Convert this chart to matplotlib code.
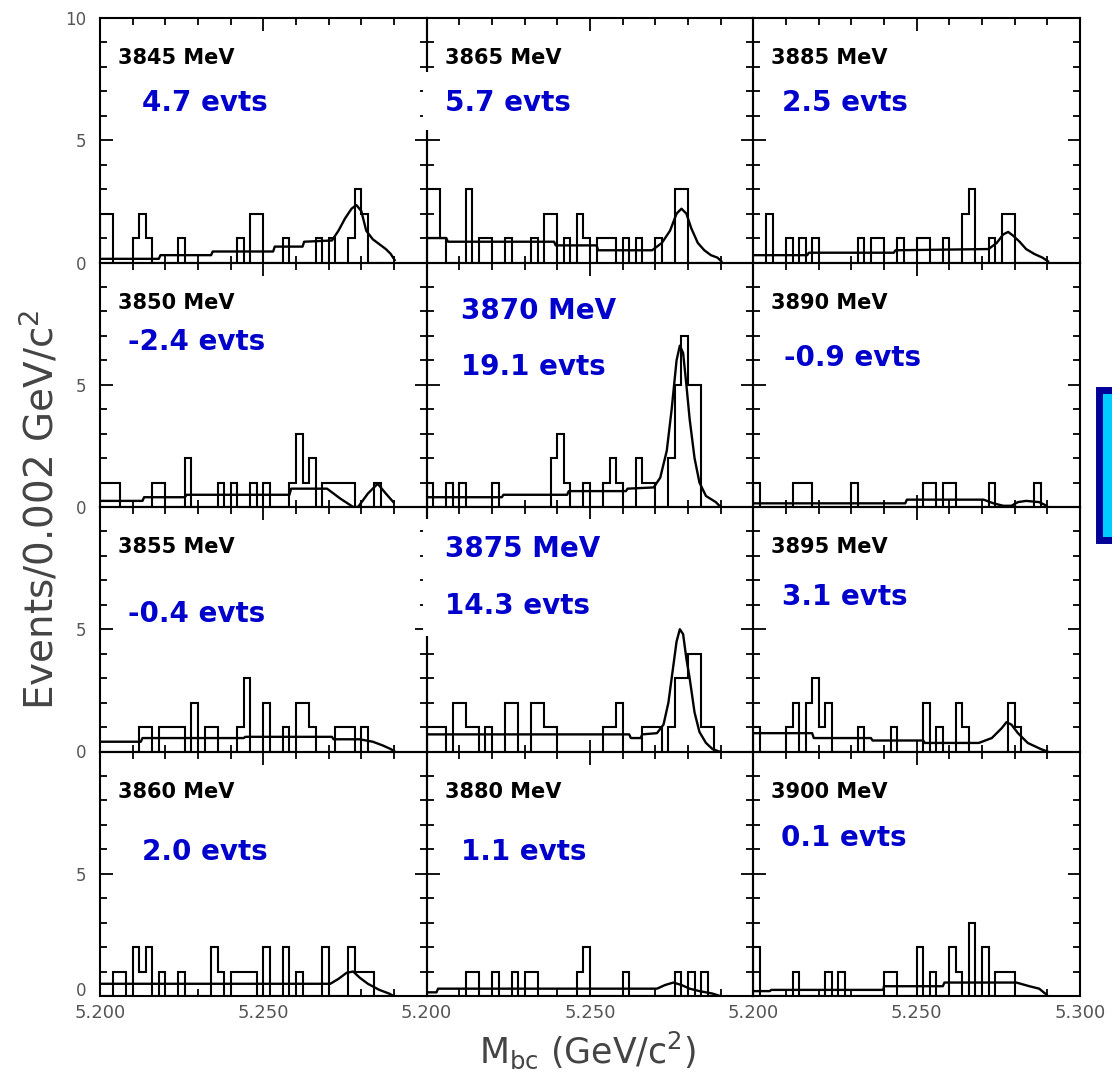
#!/usr/bin/env python3
"""
Mbc distributions in 12 energy windows (4 x 3 grid of histograms with fit curves)
"""

import matplotlib.pyplot as plt
import numpy as np
from matplotlib.patches import Rectangle
from matplotlib.ticker import MultipleLocator

# Binning: 0.002 GeV bins from 5.200 to 5.290
bin_lo = 5.200
bin_width = 0.002
n_bins = 45

# Panels in reading order (row by row)
energy_labels = ['3845 MeV', '3865 MeV', '3885 MeV',
                 '3850 MeV', '3870 MeV', '3890 MeV',
                 '3855 MeV', '3875 MeV', '3895 MeV',
                 '3860 MeV', '3880 MeV', '3900 MeV']
yield_labels = ['4.7 evts', '5.7 evts', '2.5 evts',
                '-2.4 evts', '19.1 evts', '-0.9 evts',
                '-0.4 evts', '14.3 evts', '3.1 evts',
                '2.0 evts', '1.1 evts', '0.1 evts']

# Non-empty bins per panel: {bin index: entries}
hist_3845 = {0: 2, 1: 2, 5: 1, 6: 2, 7: 1, 12: 1, 21: 1, 23: 2, 24: 2, 28: 1,
             33: 1, 35: 1, 38: 1, 39: 3, 40: 2}
hist_3865 = {0: 3, 1: 3, 2: 1, 6: 3, 8: 1, 9: 1, 12: 1, 16: 1, 18: 2, 19: 2,
             21: 1, 23: 2, 24: 1, 26: 1, 27: 1, 28: 1, 30: 1, 32: 1, 35: 1,
             38: 3, 39: 3}
hist_3885 = {2: 2, 5: 1, 7: 1, 9: 1, 16: 1, 18: 1, 19: 1, 22: 1, 25: 1, 26: 1,
             29: 1, 32: 2, 33: 3, 36: 1, 38: 2, 39: 2}
hist_3850 = {0: 1, 1: 1, 2: 1, 8: 1, 9: 1, 13: 2, 18: 1, 20: 1, 23: 1, 25: 1,
             29: 1, 30: 3, 31: 1, 32: 2, 34: 1, 35: 1, 36: 1, 37: 1, 38: 1, 42: 1}
hist_3870 = {0: 1, 3: 1, 5: 1, 10: 1, 19: 2, 20: 3, 21: 1, 24: 1, 27: 1, 28: 2,
             29: 1, 32: 2, 33: 1, 34: 1, 37: 2, 38: 5, 39: 7, 40: 5, 41: 5}
hist_3890 = {0: 1, 6: 1, 7: 1, 8: 1, 15: 1, 26: 1, 27: 1, 29: 1, 30: 1, 36: 1,
             43: 1}
hist_3855 = {6: 1, 7: 1, 9: 1, 10: 1, 11: 1, 12: 1, 14: 2, 16: 1, 17: 1, 21: 1,
             22: 3, 25: 2, 28: 1, 30: 2, 31: 2, 32: 1, 36: 1, 37: 1, 38: 1, 40: 1}
hist_3875 = {0: 1, 1: 1, 2: 1, 4: 2, 5: 2, 6: 1, 7: 1, 9: 1, 12: 2, 13: 2,
             16: 2, 17: 2, 18: 1, 19: 1, 27: 1, 28: 1, 29: 2, 33: 1, 34: 1,
             35: 1, 37: 1, 38: 3, 39: 3, 40: 4, 41: 4, 42: 1, 43: 1}
hist_3895 = {0: 1, 5: 1, 6: 2, 8: 2, 9: 3, 10: 1, 11: 2, 16: 1, 21: 1, 26: 2,
             28: 1, 31: 2, 32: 1, 39: 2, 40: 1}
hist_3860 = {2: 1, 3: 1, 5: 2, 6: 1, 7: 2, 9: 1, 12: 1, 17: 2, 18: 1, 20: 1,
             21: 1, 22: 1, 23: 1, 25: 2, 28: 2, 30: 1, 34: 2, 38: 2, 39: 1,
             40: 1, 41: 1}
hist_3880 = {6: 1, 7: 1, 10: 1, 13: 1, 15: 1, 16: 1, 23: 1, 24: 2, 30: 1,
             38: 1, 40: 1, 42: 1}
hist_3900 = {0: 2, 6: 1, 11: 1, 13: 1, 20: 1, 21: 1, 25: 2, 27: 1, 30: 2,
             31: 1, 33: 3, 35: 2, 37: 1, 38: 1, 39: 1}

# Fit curves: (Mbc, events/bin)
curve_3845 = [(5.200, 0.15), (5.218, 0.15), (5.2185, 0.3), (5.234, 0.3), (5.2345, 0.45),
              (5.253, 0.45), (5.2535, 0.65), (5.262, 0.65), (5.2625, 0.85), (5.271, 0.9),
              (5.273, 1.3), (5.275, 1.8), (5.277, 2.2), (5.2785, 2.35), (5.280, 2.1),
              (5.2815, 1.3), (5.2835, 0.95), (5.2855, 0.75), (5.2875, 0.55),
              (5.289, 0.35), (5.2902, 0.1)]
curve_3865 = [(5.200, 1.0), (5.206, 1.0), (5.2065, 0.85), (5.239, 0.85), (5.2395, 0.7),
              (5.252, 0.7), (5.2525, 0.5), (5.269, 0.5), (5.272, 0.8), (5.2745, 1.3),
              (5.2765, 2.0), (5.278, 2.2), (5.2795, 2.0), (5.281, 1.4), (5.283, 0.8),
              (5.285, 0.5), (5.287, 0.3), (5.289, 0.2), (5.2902, 0.05)]
curve_3885 = [(5.200, 0.3), (5.2165, 0.3), (5.217, 0.4), (5.243, 0.4), (5.2435, 0.5),
              (5.272, 0.55), (5.2745, 0.8), (5.2765, 1.15), (5.278, 1.25), (5.2795, 1.1),
              (5.2815, 0.85), (5.2835, 0.55), (5.286, 0.35), (5.2885, 0.2), (5.2902, 0.05)]
curve_3850 = [(5.200, 0.25), (5.213, 0.25), (5.2135, 0.4), (5.226, 0.4), (5.2265, 0.5),
              (5.258, 0.5), (5.2585, 0.75), (5.2695, 0.75), (5.2735, 0.35), (5.2775, 0.0),
              (5.279, 0.0), (5.282, 0.55), (5.285, 0.95), (5.2875, 0.55), (5.2898, 0.2)]
curve_3870 = [(5.200, 0.4), (5.223, 0.4), (5.2235, 0.5), (5.243, 0.5), (5.2435, 0.65),
              (5.261, 0.65), (5.2615, 0.75), (5.2695, 0.8), (5.2715, 1.2), (5.2735, 2.3),
              (5.275, 4.0), (5.2765, 6.0), (5.2775, 6.6), (5.2785, 6.3), (5.2795, 5.0),
              (5.2805, 3.6), (5.282, 2.0), (5.2835, 1.0), (5.2855, 0.45), (5.2885, 0.2),
              (5.290, 0.0)]
curve_3890 = [(5.200, 0.15), (5.2465, 0.15), (5.247, 0.3), (5.2705, 0.3), (5.2735, 0.15),
              (5.2765, 0.05), (5.279, 0.05), (5.281, 0.2), (5.2835, 0.25), (5.2875, 0.2),
              (5.2898, 0.05)]
curve_3855 = [(5.200, 0.4), (5.2125, 0.4), (5.213, 0.55), (5.244, 0.55), (5.2445, 0.6),
              (5.271, 0.6), (5.2715, 0.5), (5.2795, 0.5), (5.2835, 0.4), (5.2865, 0.25),
              (5.289, 0.1), (5.2902, 0.0)]
curve_3875 = [(5.200, 0.7), (5.262, 0.7), (5.2625, 0.55), (5.2655, 0.55), (5.266, 0.7),
              (5.2705, 0.75), (5.2725, 1.1), (5.274, 2.0), (5.275, 3.0), (5.2765, 4.5),
              (5.2775, 5.0), (5.2785, 4.8), (5.2795, 3.8), (5.2805, 3.0), (5.282, 1.6),
              (5.2835, 0.8), (5.2855, 0.35), (5.2875, 0.1), (5.2895, 0.0)]
curve_3895 = [(5.200, 0.75), (5.218, 0.75), (5.2185, 0.55), (5.236, 0.55), (5.2365, 0.45),
              (5.252, 0.45), (5.2525, 0.35), (5.269, 0.35), (5.273, 0.55), (5.276, 0.95),
              (5.2775, 1.2), (5.279, 1.1), (5.281, 0.75), (5.284, 0.35), (5.288, 0.1),
              (5.290, 0.0)]
curve_3860 = [(5.200, 0.5), (5.2705, 0.5), (5.273, 0.7), (5.2755, 0.95), (5.2775, 1.0),
              (5.2795, 0.75), (5.282, 0.5), (5.2855, 0.25), (5.2885, 0.1), (5.2898, 0.0)]
curve_3880 = [(5.200, 0.15), (5.203, 0.15), (5.2035, 0.3), (5.2705, 0.3), (5.273, 0.45),
              (5.2755, 0.55), (5.278, 0.45), (5.2805, 0.3), (5.2835, 0.2), (5.2875, 0.1),
              (5.2898, 0.0)]
curve_3900 = [(5.200, 0.2), (5.205, 0.2), (5.2055, 0.25), (5.2398, 0.25), (5.240, 0.4),
              (5.258, 0.4), (5.2585, 0.55), (5.2805, 0.55), (5.2845, 0.4), (5.2875, 0.3),
              (5.2898, 0.05)]

hists = [hist_3845, hist_3865, hist_3885, hist_3850, hist_3870, hist_3890,
         hist_3855, hist_3875, hist_3895, hist_3860, hist_3880, hist_3900]
curves = [curve_3845, curve_3865, curve_3885, curve_3850, curve_3870, curve_3890,
          curve_3855, curve_3875, curve_3895, curve_3860, curve_3880, curve_3900]

# Text placement (axes fraction): energy label in blue for the two signal panels
blue_energy = {4: (0.104, 0.80), 7: (0.057, 0.828)}
yield_pos = [(0.129, 0.652), (0.056, 0.652), (0.088, 0.652),
             (0.086, 0.673), (0.104, 0.571), (0.095, 0.611),
             (0.086, 0.562), (0.057, 0.595), (0.088, 0.632),
             (0.129, 0.587), (0.104, 0.587), (0.086, 0.648)]
# white patches that hide the frame behind some text boxes (x0, y0, x1, y1)
white_patch = {1: (-0.012, 0.542, 0.45, 0.779), 7: (-0.012, 0.472, 0.55, 0.951)}

W, H = 1112, 1079
fig = plt.figure(figsize=(W / 100, H / 100), dpi=100)

left_px, top_px = 100, 18
pan_w, pan_h = 326.67, 244.5
blue = '#0000CC'
grey = '#555555'

edges = bin_lo + bin_width * np.arange(n_bins + 1)

for idx in range(12):
    row, col = divmod(idx, 3)
    x0 = (left_px + col * pan_w) / W
    y0 = 1 - (top_px + (row + 1) * pan_h) / H
    ax = fig.add_axes([x0, y0, pan_w / W, pan_h / H])
    ax.set_zorder(idx)
    ax.patch.set_alpha(0)

    counts = np.zeros(n_bins)
    for b, c in hists[idx].items():
        counts[b] = c
    ax.stairs(counts, edges, baseline=0, color='black', lw=1.5)

    cx = [p[0] for p in curves[idx]]
    cy = [p[1] for p in curves[idx]]
    ax.plot(cx, cy, color='black', lw=1.7)

    ax.set_xlim(5.200, 5.300)
    ax.set_ylim(0, 10)
    ax.xaxis.set_major_locator(MultipleLocator(0.05))
    ax.xaxis.set_minor_locator(MultipleLocator(0.01))
    ax.yaxis.set_major_locator(MultipleLocator(5))
    ax.yaxis.set_minor_locator(MultipleLocator(1))
    ax.tick_params(which='both', direction='in', top=True, right=True,
                   width=1.3, colors='black', labelcolor=grey)
    ax.tick_params(which='major', length=9)
    ax.tick_params(which='minor', length=5)
    ax.tick_params(axis='y', labelsize=12, pad=10)
    ax.tick_params(axis='x', labelsize=13, pad=6)
    for sp in ax.spines.values():
        sp.set_linewidth(1.5)

    ax.set_yticks([0, 5, 10])
    if col == 0:
        ax.set_yticklabels(['0', '5', '10' if row == 0 else ''])
        if row == 3:
            # sit the bottom "0" on the axis so it clears the 5.200 label
            ax.get_yticklabels()[0].set_va('baseline')
    else:
        ax.tick_params(axis='y', labelleft=False)
    ax.set_xticks([5.200, 5.250, 5.300])
    if row == 3:
        ax.set_xticklabels(['5.200', '5.250', '5.300' if col == 2 else ''])
    else:
        ax.tick_params(axis='x', labelbottom=False)

    if idx in white_patch:
        a, b, c, d = white_patch[idx]
        ax.add_patch(Rectangle((a, b), c - a, d - b, transform=ax.transAxes,
                               facecolor='white', edgecolor='none',
                               zorder=2.8, clip_on=False))

    if idx in blue_energy:
        ex, ey = blue_energy[idx]
        ax.text(ex, ey, energy_labels[idx], transform=ax.transAxes, color=blue,
                fontsize=20, fontweight='bold', ha='left', va='center', zorder=4)
    else:
        ax.text(0.055, 0.835, energy_labels[idx], transform=ax.transAxes,
                color='black', fontsize=15, fontweight='bold',
                ha='left', va='center', zorder=4)

    tx, ty = yield_pos[idx]
    ax.text(tx, ty, yield_labels[idx], transform=ax.transAxes, color=blue,
            fontsize=20, fontweight='bold', ha='left', va='center', zorder=4)

# Axis titles
fig.text(40 / W, 1 - 510 / H, 'Events/0.002 GeV/c$^2$', rotation=90,
         ha='center', va='center', fontsize=28, color='#444444')
fig.text(588 / W, 1 - 1050 / H, 'M$_{\\rm bc}$ (GeV/c$^2$)',
         ha='center', va='center', fontsize=25, color='#444444')

# Partial blue box on the right edge
fig.patches.append(Rectangle((1098.5 / W, 1 - 539.5 / H), 40 / W, 150 / H,
                             transform=fig.transFigure, facecolor='#00CCFF',
                             edgecolor='#000099', lw=5, zorder=20))

fig.savefig('out.png', dpi=100, facecolor='white')
